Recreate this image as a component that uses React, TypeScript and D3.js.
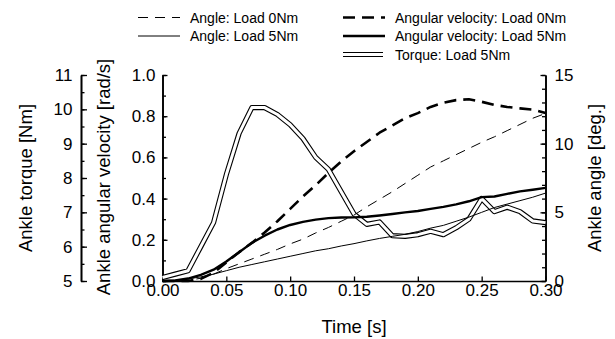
import React, { useEffect, useRef } from "react";
import * as d3 from "d3";

// time samples [s]
const time = [
  0, 0.01, 0.02, 0.03, 0.04, 0.05, 0.06, 0.07, 0.08, 0.09, 0.1, 0.11, 0.12, 0.13, 0.14, 0.15,
  0.16, 0.17, 0.18, 0.19, 0.2, 0.21, 0.22, 0.23, 0.24, 0.25, 0.26, 0.27, 0.28, 0.29, 0.3,
];

// ankle angle [deg.]
const angleLoad0 = [
  0, 0, 0.05, 0.2, 0.5, 0.9, 1.25, 1.6, 1.95, 2.3, 2.7, 3.05, 3.5, 3.9, 4.35, 4.8,
  5.4, 5.95, 6.5, 7.1, 7.7, 8.3, 8.75, 9.2, 9.65, 10.1, 10.5, 10.95, 11.4, 11.85, 12.2,
];
const angleLoad5 = [
  0, 0.05, 0.15, 0.3, 0.5, 0.75, 1.0, 1.2, 1.4, 1.6, 1.8, 2.0, 2.2, 2.35, 2.55, 2.72,
  2.92, 3.1, 3.25, 3.4, 3.6, 3.85, 4.05, 4.35, 4.65, 5.0, 5.35, 5.6, 5.85, 6.1, 6.4,
];

// ankle angular velocity [rad/s]
const velocityLoad0 = [
  0, 0, 0, 0.01, 0.04, 0.09, 0.14, 0.185, 0.235, 0.29, 0.35, 0.41, 0.465, 0.525, 0.58, 0.63,
  0.675, 0.72, 0.755, 0.79, 0.815, 0.845, 0.865, 0.878, 0.882, 0.87, 0.855, 0.845, 0.838, 0.832, 0.815,
];
const velocityLoad5 = [
  0, 0.003, 0.012, 0.03, 0.055, 0.095, 0.14, 0.185, 0.22, 0.25, 0.272, 0.287, 0.298, 0.305, 0.308, 0.309,
  0.312, 0.318, 0.325, 0.333, 0.34, 0.35, 0.36, 0.372, 0.387, 0.407, 0.41, 0.423, 0.435, 0.443, 0.452,
];

// ankle torque [Nm]
const torqueLoad5 = [
  5.1, 5.2, 5.3, 6.0, 6.7, 8.1, 9.3, 10.05, 10.05, 9.85, 9.55, 9.15, 8.6, 8.25, 7.6, 6.95,
  6.65, 6.72, 6.32, 6.3, 6.35, 6.45, 6.35, 6.55, 6.8, 7.4, 7.02, 7.15, 7.02, 6.75, 6.7,
];

const timeTicks = [0, 0.05, 0.1, 0.15, 0.2, 0.25, 0.3];
const velocityTicks = [0, 0.2, 0.4, 0.6, 0.8, 1.0];
const torqueTicks = [5, 6, 7, 8, 9, 10, 11];
const angleTicks = [0, 5, 10, 15];

const legendItems = [
  { label: "Angle: Load 0Nm", col: 0, row: 0, kind: "thinDash" },
  { label: "Angle: Load 5Nm", col: 0, row: 1, kind: "thin" },
  { label: "Angular velocity: Load 0Nm", col: 1, row: 0, kind: "thickDash" },
  { label: "Angular velocity: Load 5Nm", col: 1, row: 1, kind: "thick" },
  { label: "Torque: Load 5Nm", col: 1, row: 2, kind: "double" },
];

const FONT = "'Liberation Sans', Arial, Helvetica, sans-serif";

const styles = {
  thinDash: { width: 1, dash: "10,7" },
  thin: { width: 1, dash: null },
  thickDash: { width: 2.6, dash: "12,7" },
  thick: { width: 2.4, dash: null },
};

const App = () => {
  const ref = useRef<SVGSVGElement>(null);

  useEffect(() => {
    const svg = d3.select(ref.current);
    svg.selectAll("*").remove();

    const left = 162.5;
    const right = 545.5;
    const top = 75;
    const bottom = 281;
    const torqueAxisX = 81;

    const x = d3.scaleLinear().domain([0, 0.3]).range([left, right]);
    const yVel = d3.scaleLinear().domain([0, 1]).range([bottom, top]);
    const yTorque = d3.scaleLinear().domain([5, 11]).range([bottom, top]);
    const yAngle = d3.scaleLinear().domain([0, 15]).range([bottom, top]);

    const styleAxis = (g, size) => {
      g.selectAll("path").attr("stroke", "#000").attr("stroke-width", 1.6);
      g.selectAll("line").attr("stroke", "#000").attr("stroke-width", 1.3);
      g.selectAll("text")
        .attr("fill", "#000")
        .style("font-family", FONT)
        .style("font-size", `${size}px`);
    };

    // torque axis (far left)
    svg.append("g")
      .attr("transform", `translate(${torqueAxisX},0)`)
      .call(d3.axisLeft(yTorque).tickValues(d3.range(5, 11.01, 0.5)).tickFormat(() => "").tickSizeInner(-3.5).tickSizeOuter(0))
      .call((g) => styleAxis(g, 17));
    svg.append("g")
      .attr("transform", `translate(${torqueAxisX},0)`)
      .call(d3.axisLeft(yTorque).tickValues(torqueTicks).tickFormat(d3.format("d")).tickSizeInner(-6).tickSizeOuter(0).tickPadding(8.5))
      .call((g) => styleAxis(g, 17));

    // velocity axis
    svg.append("g")
      .attr("transform", `translate(${left},0)`)
      .call(d3.axisLeft(yVel).tickValues(d3.range(0, 1.01, 0.1)).tickFormat(() => "").tickSizeInner(-3.5).tickSizeOuter(0))
      .call((g) => styleAxis(g, 17));
    svg.append("g")
      .attr("transform", `translate(${left},0)`)
      .call(d3.axisLeft(yVel).tickValues(velocityTicks).tickFormat(d3.format(".1f")).tickSizeInner(-5).tickSizeOuter(0).tickPadding(7))
      .call((g) => styleAxis(g, 17));

    // angle axis (right)
    svg.append("g")
      .attr("transform", `translate(${right},0)`)
      .call(d3.axisRight(yAngle).tickValues(d3.range(0, 15.01, 1)).tickFormat(() => "").tickSizeInner(-3.5).tickSizeOuter(0))
      .call((g) => styleAxis(g, 17));
    svg.append("g")
      .attr("transform", `translate(${right},0)`)
      .call(d3.axisRight(yAngle).tickValues(angleTicks).tickFormat(d3.format("d")).tickSizeInner(-5).tickSizeOuter(0).tickPadding(9))
      .call((g) => styleAxis(g, 17));

    // time axis
    svg.append("g")
      .attr("transform", `translate(0,${bottom})`)
      .call(d3.axisBottom(x).tickValues(timeTicks).tickFormat(d3.format(".2f")).tickSizeInner(-4.5).tickSizeOuter(0).tickPadding(2.5))
      .call((g) => styleAxis(g, 17));

    // axis titles
    const title = (txt, tx, ty, rotate) =>
      svg.append("text")
        .attr("transform", `translate(${tx},${ty})${rotate ? " rotate(-90)" : ""}`)
        .attr("text-anchor", "middle")
        .style("font-family", FONT)
        .style("font-size", "18.5px")
        .text(txt);
    title("Time [s]", (left + right) / 2, 333, false);
    title("Ankle torque [Nm]", 31.5, 178, true);
    title("Ankle angular velocity [rad/s]", 110, 177, true);
    title("Ankle angle [deg.]", 601, 178, true);

    const pts = (ys) => time.map((t, i) => [t, ys[i]]);
    const lineOf = (yScale) =>
      d3.line().x((d) => x(d[0])).y((d) => yScale(d[1]));

    // torque: double line
    const torquePath = lineOf(yTorque)(pts(torqueLoad5));
    svg.append("path").attr("d", torquePath).attr("fill", "none").attr("stroke", "#000").attr("stroke-width", 5.2).attr("stroke-linejoin", "round");
    svg.append("path").attr("d", torquePath).attr("fill", "none").attr("stroke", "#fff").attr("stroke-width", 3).attr("stroke-linejoin", "round");

    const drawSeries = (ys, yScale, kind) => {
      const st = styles[kind];
      svg.append("path")
        .attr("d", lineOf(yScale)(pts(ys)))
        .attr("fill", "none")
        .attr("stroke", "#000")
        .attr("stroke-width", st.width)
        .attr("stroke-dasharray", st.dash)
        .attr("stroke-linejoin", "round");
    };
    drawSeries(angleLoad0, yAngle, "thinDash");
    drawSeries(angleLoad5, yAngle, "thin");
    drawSeries(velocityLoad0, yVel, "thickDash");
    drawSeries(velocityLoad5, yVel, "thick");

    // legend
    const colX = [138, 343];
    const rowY = [17.5, 36, 54.5];
    legendItems.forEach((it) => {
      const x0 = colX[it.col];
      const y0 = rowY[it.row];
      if (it.kind === "double") {
        svg.append("line").attr("x1", x0).attr("x2", x0 + 40).attr("y1", y0).attr("y2", y0).attr("stroke", "#000").attr("stroke-width", 5.2);
        svg.append("line").attr("x1", x0 - 1).attr("x2", x0 + 41).attr("y1", y0).attr("y2", y0).attr("stroke", "#fff").attr("stroke-width", 3);
      } else {
        const st = styles[it.kind];
        svg.append("line")
          .attr("x1", x0).attr("x2", x0 + 42).attr("y1", y0).attr("y2", y0)
          .attr("stroke", "#000").attr("stroke-width", st.width)
          .attr("stroke-dasharray", st.dash);
      }
      svg.append("text")
        .attr("x", x0 + (it.col === 0 ? 52 : 52))
        .attr("y", y0 + 5)
        .style("font-family", FONT)
        .style("font-size", "14px")
        .text(it.label);
    });
  }, []);

  return (
    <svg
      ref={ref}
      width={615}
      height={339}
      style={{ position: "absolute", left: 0, top: 0, background: "#fff" }}
    />
  );
};

export default App;
